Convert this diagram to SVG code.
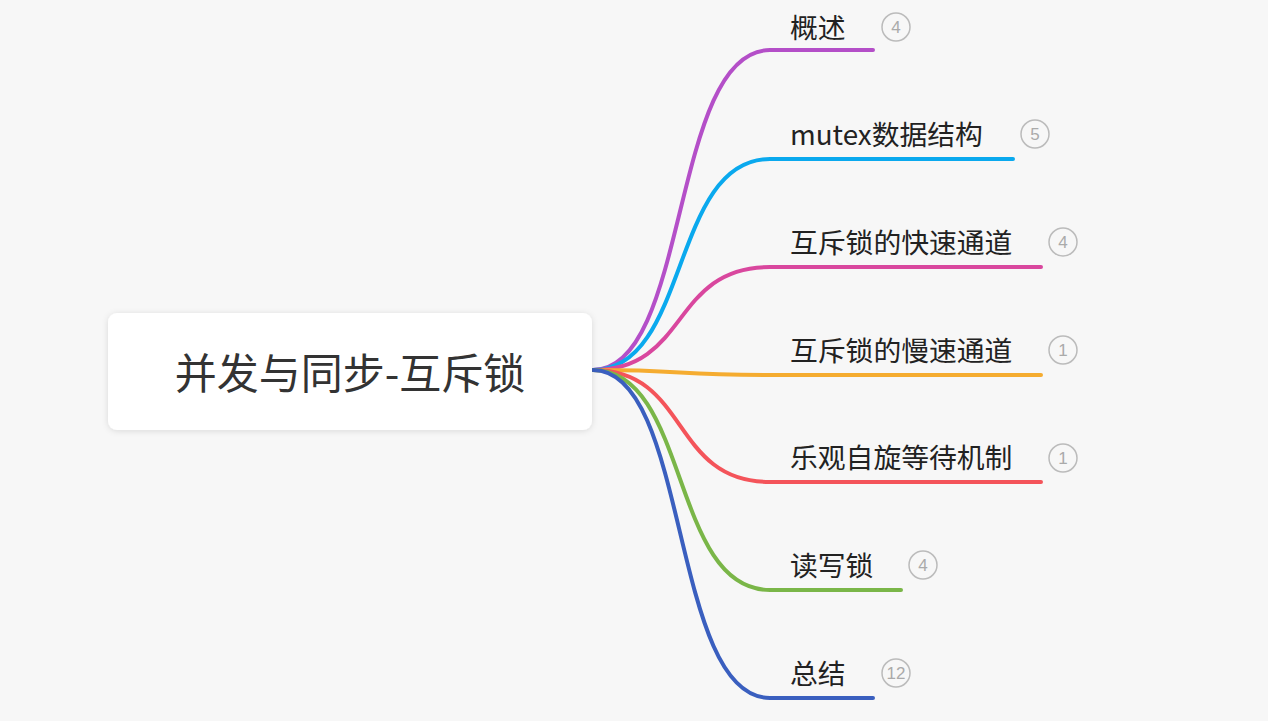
<svg xmlns="http://www.w3.org/2000/svg" width="1268" height="721" viewBox="0 0 1268 721">
<defs>
<filter id="sh" x="-10%" y="-20%" width="120%" height="140%"><feDropShadow dx="0" dy="1" stdDeviation="3" flood-color="#000" flood-opacity="0.12"/></filter>
<style>
.t{font-family:"Noto Sans CJK SC","Liberation Sans",sans-serif;font-size:27.8px;fill:#222}
.b{fill:none;stroke:#bbb;stroke-width:1.5}
.bt{font-family:"Liberation Sans",sans-serif;font-size:17px;fill:#aaa;text-anchor:middle}
.c path{fill:none;stroke-width:4;stroke-linecap:round}
</style>
</defs>
<rect width="1268" height="721" fill="#f7f7f7"/>
<g class="c" id="connectors">
<path d="M593,370 C690,370 670,50 770,50 L873,50" stroke="#b44fc8"/>
<path d="M593,370 C690,370 670,159 770,159 L1013,159" stroke="#0aa9ee"/>
<path d="M593,370 C690,370 670,267 770,267 L1041,267" stroke="#d9479e"/>
<path d="M593,370 C690,370 670,375 770,375 L1041,375" stroke="#f5ac30"/>
<path d="M593,370 C690,370 670,482 770,482 L1041,482" stroke="#f4545a"/>
<path d="M593,370 C690,370 670,590 770,590 L901,590" stroke="#7ab648"/>
<path d="M593,370 C690,370 670,698 770,698 L873,698" stroke="#3a5fbf"/>
</g>
<g id="root"><rect x="108" y="313" width="484" height="117" rx="9" fill="#fff" filter="url(#sh)"/>
<text x="350" y="389" text-anchor="middle" font-family="Noto Sans CJK SC,Liberation Sans,sans-serif" font-size="42" fill="#333">并发与同步-互斥锁</text></g>
<g id="n1"><text class="t" x="790" y="38">概述</text><circle class="b" cx="896" cy="27" r="14"/><text class="bt" x="896" y="33">4</text></g>
<g id="n2"><text class="t" x="790" y="145">mutex数据结构</text><circle class="b" cx="1035" cy="134" r="14"/><text class="bt" x="1035" y="140">5</text></g>
<g id="n3"><text class="t" x="790" y="253">互斥锁的快速通道</text><circle class="b" cx="1063" cy="242" r="14"/><text class="bt" x="1063" y="248">4</text></g>
<g id="n4"><text class="t" x="790" y="361">互斥锁的慢速通道</text><circle class="b" cx="1063" cy="350" r="14"/><text class="bt" x="1063" y="356">1</text></g>
<g id="n5"><text class="t" x="790" y="468">乐观自旋等待机制</text><circle class="b" cx="1063" cy="458" r="14"/><text class="bt" x="1063" y="464">1</text></g>
<g id="n6"><text class="t" x="790" y="576">读写锁</text><circle class="b" cx="923" cy="565" r="14"/><text class="bt" x="923" y="571">4</text></g>
<g id="n7"><text class="t" x="790" y="684">总结</text><circle class="b" cx="896" cy="673" r="14"/><text class="bt" x="896" y="679">12</text></g>
</svg>
